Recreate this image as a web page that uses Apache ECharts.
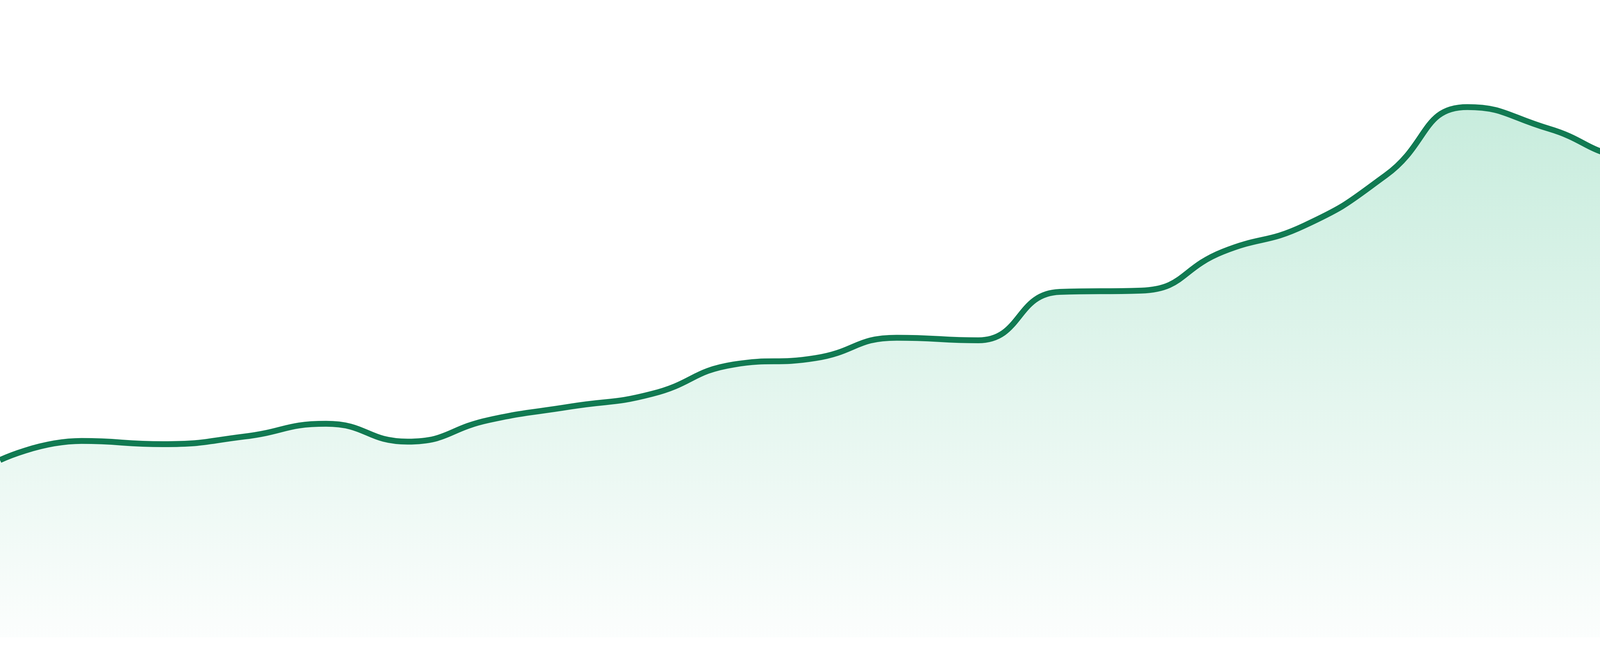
<!DOCTYPE html>
<html>
<head>
<meta charset="utf-8">
<script src="https://cdn.jsdelivr.net/npm/echarts@6/dist/echarts.min.js"></script>
<style>
  html, body { margin: 0; padding: 0; background: #ffffff; }
  #chart { width: 4800px; height: 1680px; }
</style>
</head>
<body>
<div id="chart"></div>
<script>
const categories = ['P1','P2','P3','P4','P5','P6','P7','P8','P9','P10','P11','P12',
                    'P13','P14','P15','P16','P17','P18','P19','P20','P21','P22','P23','P24'];
const values = [27.8, 30.8, 30.3, 31.5, 33.5, 30.7, 34.1, 36.2, 38.2, 42.8, 43.8, 47.0,
                46.6, 54.2, 54.4, 60.5, 64.6, 72.5, 83.2, 79.8, 75.6, 79.2, 87.6, 84.5];
const yMin = 0;
const yMax = 100;

const chart = echarts.init(document.getElementById('chart'), null, { renderer: 'canvas' });
chart.setOption({
  backgroundColor: '#ffffff',
  animation: false,
  grid: { left: 0, right: 0, top: 0, bottom: 48, containLabel: false },
  xAxis: {
    type: 'category',
    data: categories,
    boundaryGap: false,
    show: false
  },
  yAxis: {
    type: 'value',
    min: yMin,
    max: yMax,
    show: false,
    splitLine: { show: false }
  },
  series: [{
    type: 'line',
    data: values,
    smooth: true,
    symbol: 'none',
    lineStyle: { color: '#117a52', width: 15 },
    itemStyle: { color: '#117a52' },
    areaStyle: {
      color: new echarts.graphic.LinearGradient(0, 0, 0, 1, [
        { offset: 0, color: '#ace3cc' },
        { offset: 1, color: '#fafdfc' }
      ])
    }
  }]
});
</script>
</body>
</html>
